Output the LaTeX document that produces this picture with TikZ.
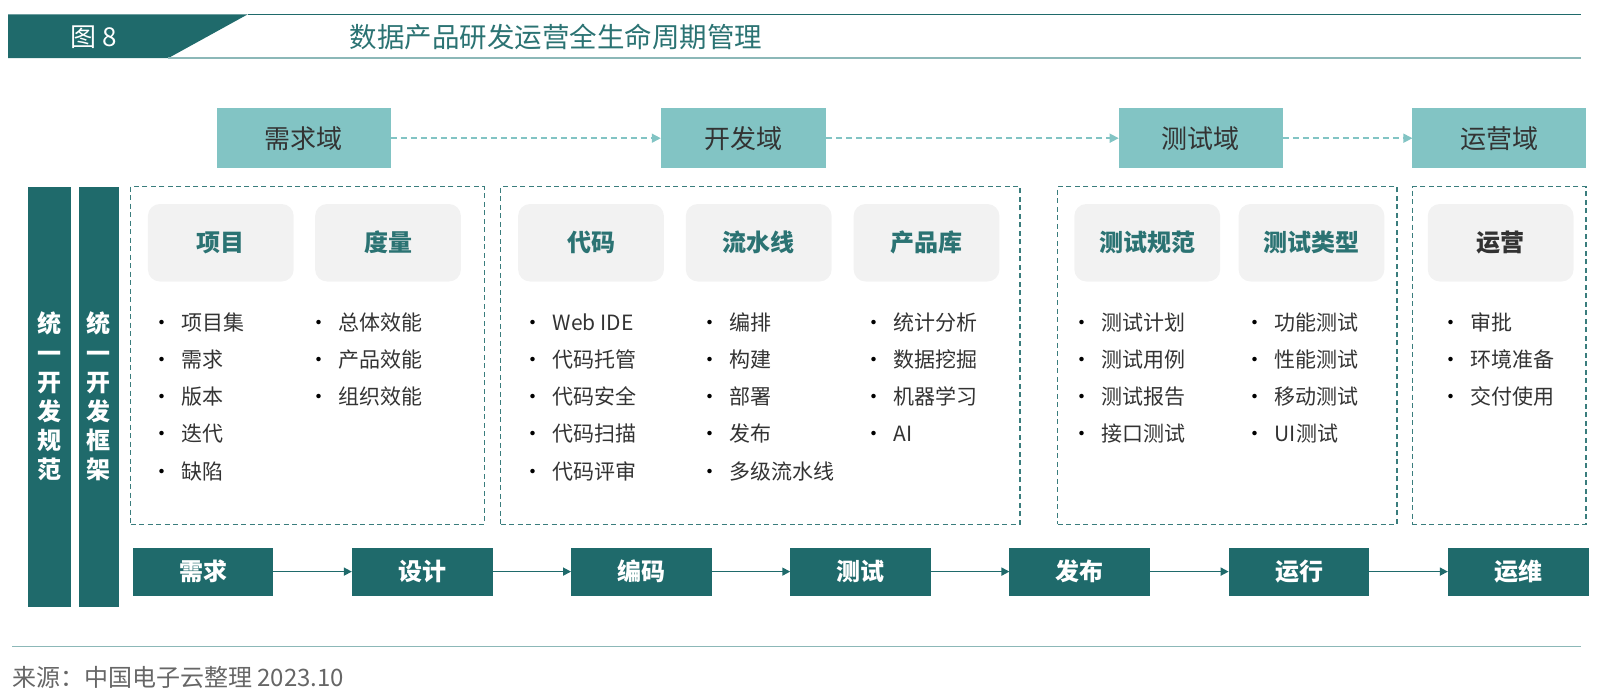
\documentclass[tikz,border=0pt]{standalone}
\usepackage{fontspec}
\setmainfont{Noto Sans CJK SC}
\usetikzlibrary{positioning, arrows.meta}
\definecolor{darkteal}{HTML}{1F6A6B}
\definecolor{domainfill}{HTML}{82C4C4}
\definecolor{headline}{HTML}{8CB8B8}
\definecolor{dashteal}{HTML}{3A7D7D}
\definecolor{subfill}{HTML}{F2F2F2}
\definecolor{headteal}{HTML}{2B7373}
\definecolor{textgray}{HTML}{333333}
\definecolor{srcgray}{HTML}{666666}

\begin{document}
\begin{tikzpicture}[x=1pt, y=-1pt,
    every node/.style={inner sep=0pt, outer sep=0pt},
    domainbox/.style={fill=domainfill, minimum width=173.4pt, minimum height=60.2pt, text=textgray, font=\fontsize{26}{26}\selectfont},
    sidebar/.style={fill=darkteal, minimum height=420.2pt, text=white, align=center, font=\bfseries\fontsize{24}{29.2}\selectfont},
    dashbox/.style={draw=dashteal, line width=1.4pt, dash pattern=on 5pt off 3.5pt, minimum height=337.6pt},
    subhead/.style={fill=subfill, rounded corners=12pt, minimum width=145.8pt, minimum height=77.5pt, text=headteal, font=\bfseries\fontsize{24}{24}\selectfont},
    listitem/.style={anchor=west, text=textgray, font=\fontsize{21}{21}\selectfont},
    stagebox/.style={fill=darkteal, minimum width=140.7pt, minimum height=48pt, text=white, font=\bfseries\fontsize{24}{24}\selectfont},
    flowarrow/.style={-{Triangle[length=8pt, width=8pt]}, line width=1.6pt, darkteal},
    dasharrow/.style={-{Triangle[length=9pt, width=9pt]}, line width=1.6pt, domainfill, dash pattern=on 6pt off 4pt}
]
\useasboundingbox (0,0) rectangle (1599,691);

% Title band
\fill[darkteal] (8.2,14.3) -- (247.8,14.3) -- (168.3,58.1) -- (8.2,58.1) -- cycle;
\draw[darkteal, line width=1.2pt] (247.8,14.3) -- (1580.7,14.3);
\draw[headline, line width=2.2pt] (168.3,58.1) -- (1580.7,58.1);
\node[text=white, font=\fontsize{26}{26}\selectfont] (figno) at (93.8,36.7) {图 8};
\node[anchor=west, text=headteal, font=\fontsize{27.5}{27.5}\selectfont] (title) at (349.8,36.7) {数据产品研发运营全生命周期管理};

% Domains
\node[domainbox] (xqy) at (303.9,138.2) {需求域};
\node[domainbox, minimum width=165.2pt] (kfy) at (743.4,138.2) {开发域};
\node[domainbox, minimum width=164.2pt] (csy) at (1200.8,138.2) {测试域};
\node[domainbox] (yyy) at (1499.1,138.2) {运营域};

% Side bars
\node[sidebar, minimum width=43.9pt] (guifan) at (49.45,396.7) {统\\一\\开\\发\\规\\范};
\node[sidebar, minimum width=40.8pt] (kuangjia) at (98.9,396.7) {统\\一\\开\\发\\框\\架};

% Dashed groups
\node[dashbox, minimum width=353.9pt] (g1) at (307.45,355.4) {};
\node[dashbox, minimum width=519.1pt] (g2) at (760.25,355.4) {};
\node[dashbox, minimum width=339.6pt] (g3) at (1227.3,355.4) {};
\node[dashbox, minimum width=173.4pt] (g4) at (1499.1,355.4) {};

% Group headers
\node[subhead] (xiangmu) at (220.8,242.75) {项目};
\node[subhead] (duliang) at (388,242.75) {度量};
\node[subhead] (daima) at (591,242.75) {代码};
\node[subhead] (liushui) at (758.7,242.75) {流水线};
\node[subhead] (chanpin) at (926.5,242.75) {产品库};
\node[subhead] (guifanh) at (1147.25,242.75) {测试规范};
\node[subhead] (leixing) at (1311.45,242.75) {测试类型};
\node[subhead, text=textgray] (yunying) at (1500.65,242.75) {运营};

% Item lists
\foreach \t [count=\i from 0] in {项目集,需求,版本,迭代,缺陷}
  \node[listitem] (xm-\i) at (151.7,322.3+37.2*\i) {\makebox[30pt][l]{\color{black}•}\t};
\foreach \t [count=\i from 0] in {总体效能,产品效能,组织效能}
  \node[listitem] (dl-\i) at (308.7,322.3+37.2*\i) {\makebox[30pt][l]{\color{black}•}\t};
\foreach \t [count=\i from 0] in {Web IDE,代码托管,代码安全,代码扫描,代码评审}
  \node[listitem] (dm-\i) at (522.7,322.3+37.2*\i) {\makebox[30pt][l]{\color{black}•}\t};
\foreach \t [count=\i from 0] in {编排,构建,部署,发布,多级流水线}
  \node[listitem] (ls-\i) at (699.7,322.3+37.2*\i) {\makebox[30pt][l]{\color{black}•}\t};
\foreach \t [count=\i from 0] in {统计分析,数据挖掘,机器学习,AI}
  \node[listitem] (cp-\i) at (863.7,322.3+37.2*\i) {\makebox[30pt][l]{\color{black}•}\t};
\foreach \t [count=\i from 0] in {测试计划,测试用例,测试报告,接口测试}
  \node[listitem] (gf-\i) at (1071.7,322.3+37.2*\i) {\makebox[30pt][l]{\color{black}•}\t};
\foreach \t [count=\i from 0] in {功能测试,性能测试,移动测试,UI测试}
  \node[listitem] (lx-\i) at (1244.7,322.3+37.2*\i) {\makebox[30pt][l]{\color{black}•}\t};
\foreach \t [count=\i from 0] in {审批,环境准备,交付使用}
  \node[listitem] (yy-\i) at (1440.7,322.3+37.2*\i) {\makebox[30pt][l]{\color{black}•}\t};

% Stages
\node[stagebox] (s1) at (203,571.6) {需求};
\node[stagebox, right=78.5pt of s1] (s2) {设计};
\node[stagebox, right=78.5pt of s2] (s3) {编码};
\node[stagebox, right=78.5pt of s3] (s4) {测试};
\node[stagebox, right=78.5pt of s4] (s5) {发布};
\node[stagebox, right=78.5pt of s5] (s6) {运行};
\node[stagebox, right=78.5pt of s6] (s7) {运维};

% Edges
\draw[dasharrow] (xqy) -- (kfy);
\draw[dasharrow] (kfy) -- (csy);
\draw[dasharrow] (csy) -- (yyy);
\draw[flowarrow] (s1) -- (s2);
\draw[flowarrow] (s2) -- (s3);
\draw[flowarrow] (s3) -- (s4);
\draw[flowarrow] (s4) -- (s5);
\draw[flowarrow] (s5) -- (s6);
\draw[flowarrow] (s6) -- (s7);

% Source
\draw[headline, line width=1.5pt] (12.2,646.5) -- (1580.7,646.5);
\node[anchor=west, text=srcgray, font=\fontsize{24}{24}\selectfont] (source) at (12.2,677) {来源：中国电子云整理 2023.10};
\end{tikzpicture}
\end{document}
